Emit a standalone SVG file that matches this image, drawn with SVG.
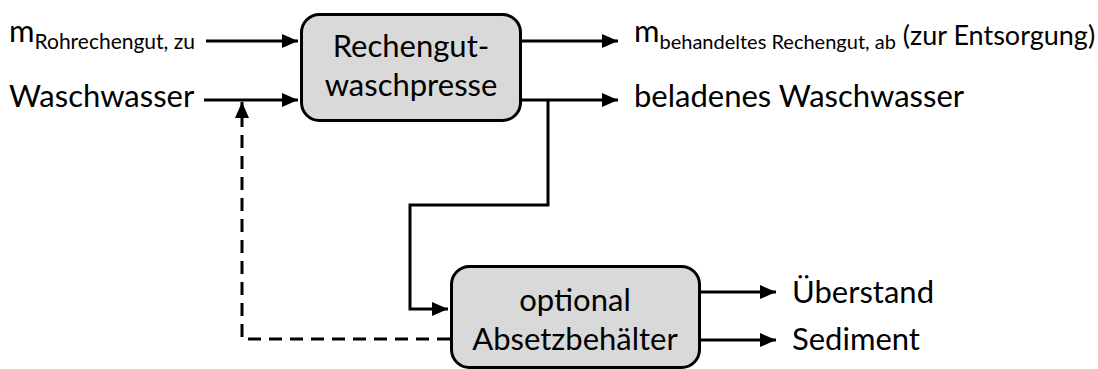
<svg xmlns="http://www.w3.org/2000/svg" width="1098" height="369" viewBox="0 0 1098 369">
  <defs>
    <style>
      .box { fill: #d9d9d9; stroke: #000; stroke-width: 3; }
      .lbl { font-family: Lato, "Open Sans", sans-serif; font-size: 31px; fill: #000; }
      .mid { text-anchor: middle; }
      .line { fill: none; stroke: #000; stroke-width: 3; }
      .dash { stroke-dasharray: 13 8; }
    </style>
    <marker id="arrow" viewBox="0 0 16 14" refX="16" refY="7" markerWidth="16" markerHeight="14" markerUnits="userSpaceOnUse" orient="auto">
      <path d="M0,0 L16,7 L0,14 Z" fill="#000"/>
    </marker>
  </defs>

  <!-- connectors -->
  <g id="connectors">
    <path class="line" d="M206,41 H298" marker-end="url(#arrow)"/>
    <path class="line" d="M204,100 H298" marker-end="url(#arrow)"/>
    <path class="line" d="M521,41 H618" marker-end="url(#arrow)"/>
    <path class="line" d="M521,100 H618" marker-end="url(#arrow)"/>
    <path class="line" d="M548,100 V205 H410 V309 H448" marker-end="url(#arrow)"/>
    <path class="line dash" d="M450,339 H242 V102" marker-end="url(#arrow)"/>
    <path class="line" d="M701,292 H776" marker-end="url(#arrow)"/>
    <path class="line" d="M701,340 H776" marker-end="url(#arrow)"/>
  </g>

  <!-- process nodes -->
  <g id="waschpresse">
    <rect class="box" x="301.5" y="14.5" width="219" height="106" rx="18"/>
    <text class="lbl mid" x="411" y="57">Rechengut-</text>
    <text class="lbl mid" x="411" y="96">waschpresse</text>
  </g>
  <g id="absetzbehaelter">
    <rect class="box" x="451.5" y="266.5" width="248" height="101" rx="18"/>
    <text class="lbl mid" x="575" y="311">optional</text>
    <text class="lbl mid" x="575" y="350">Absetzbehälter</text>
  </g>

  <!-- stream labels -->
  <g id="inputs">
    <text class="lbl" x="9" y="42">m<tspan font-size="21" dy="7">Rohrechengut, zu</tspan></text>
    <text class="lbl" x="9" y="107">Waschwasser</text>
  </g>
  <g id="outputs">
    <text class="lbl" x="634" y="42">m<tspan font-size="20" dy="7">behandeltes Rechengut, ab</tspan><tspan dy="-4" font-size="27"> (zur Entsorgung)</tspan></text>
    <text class="lbl" x="634" y="107">beladenes Waschwasser</text>
    <text class="lbl" x="792" y="303">Überstand</text>
    <text class="lbl" x="792" y="350">Sediment</text>
  </g>
</svg>
